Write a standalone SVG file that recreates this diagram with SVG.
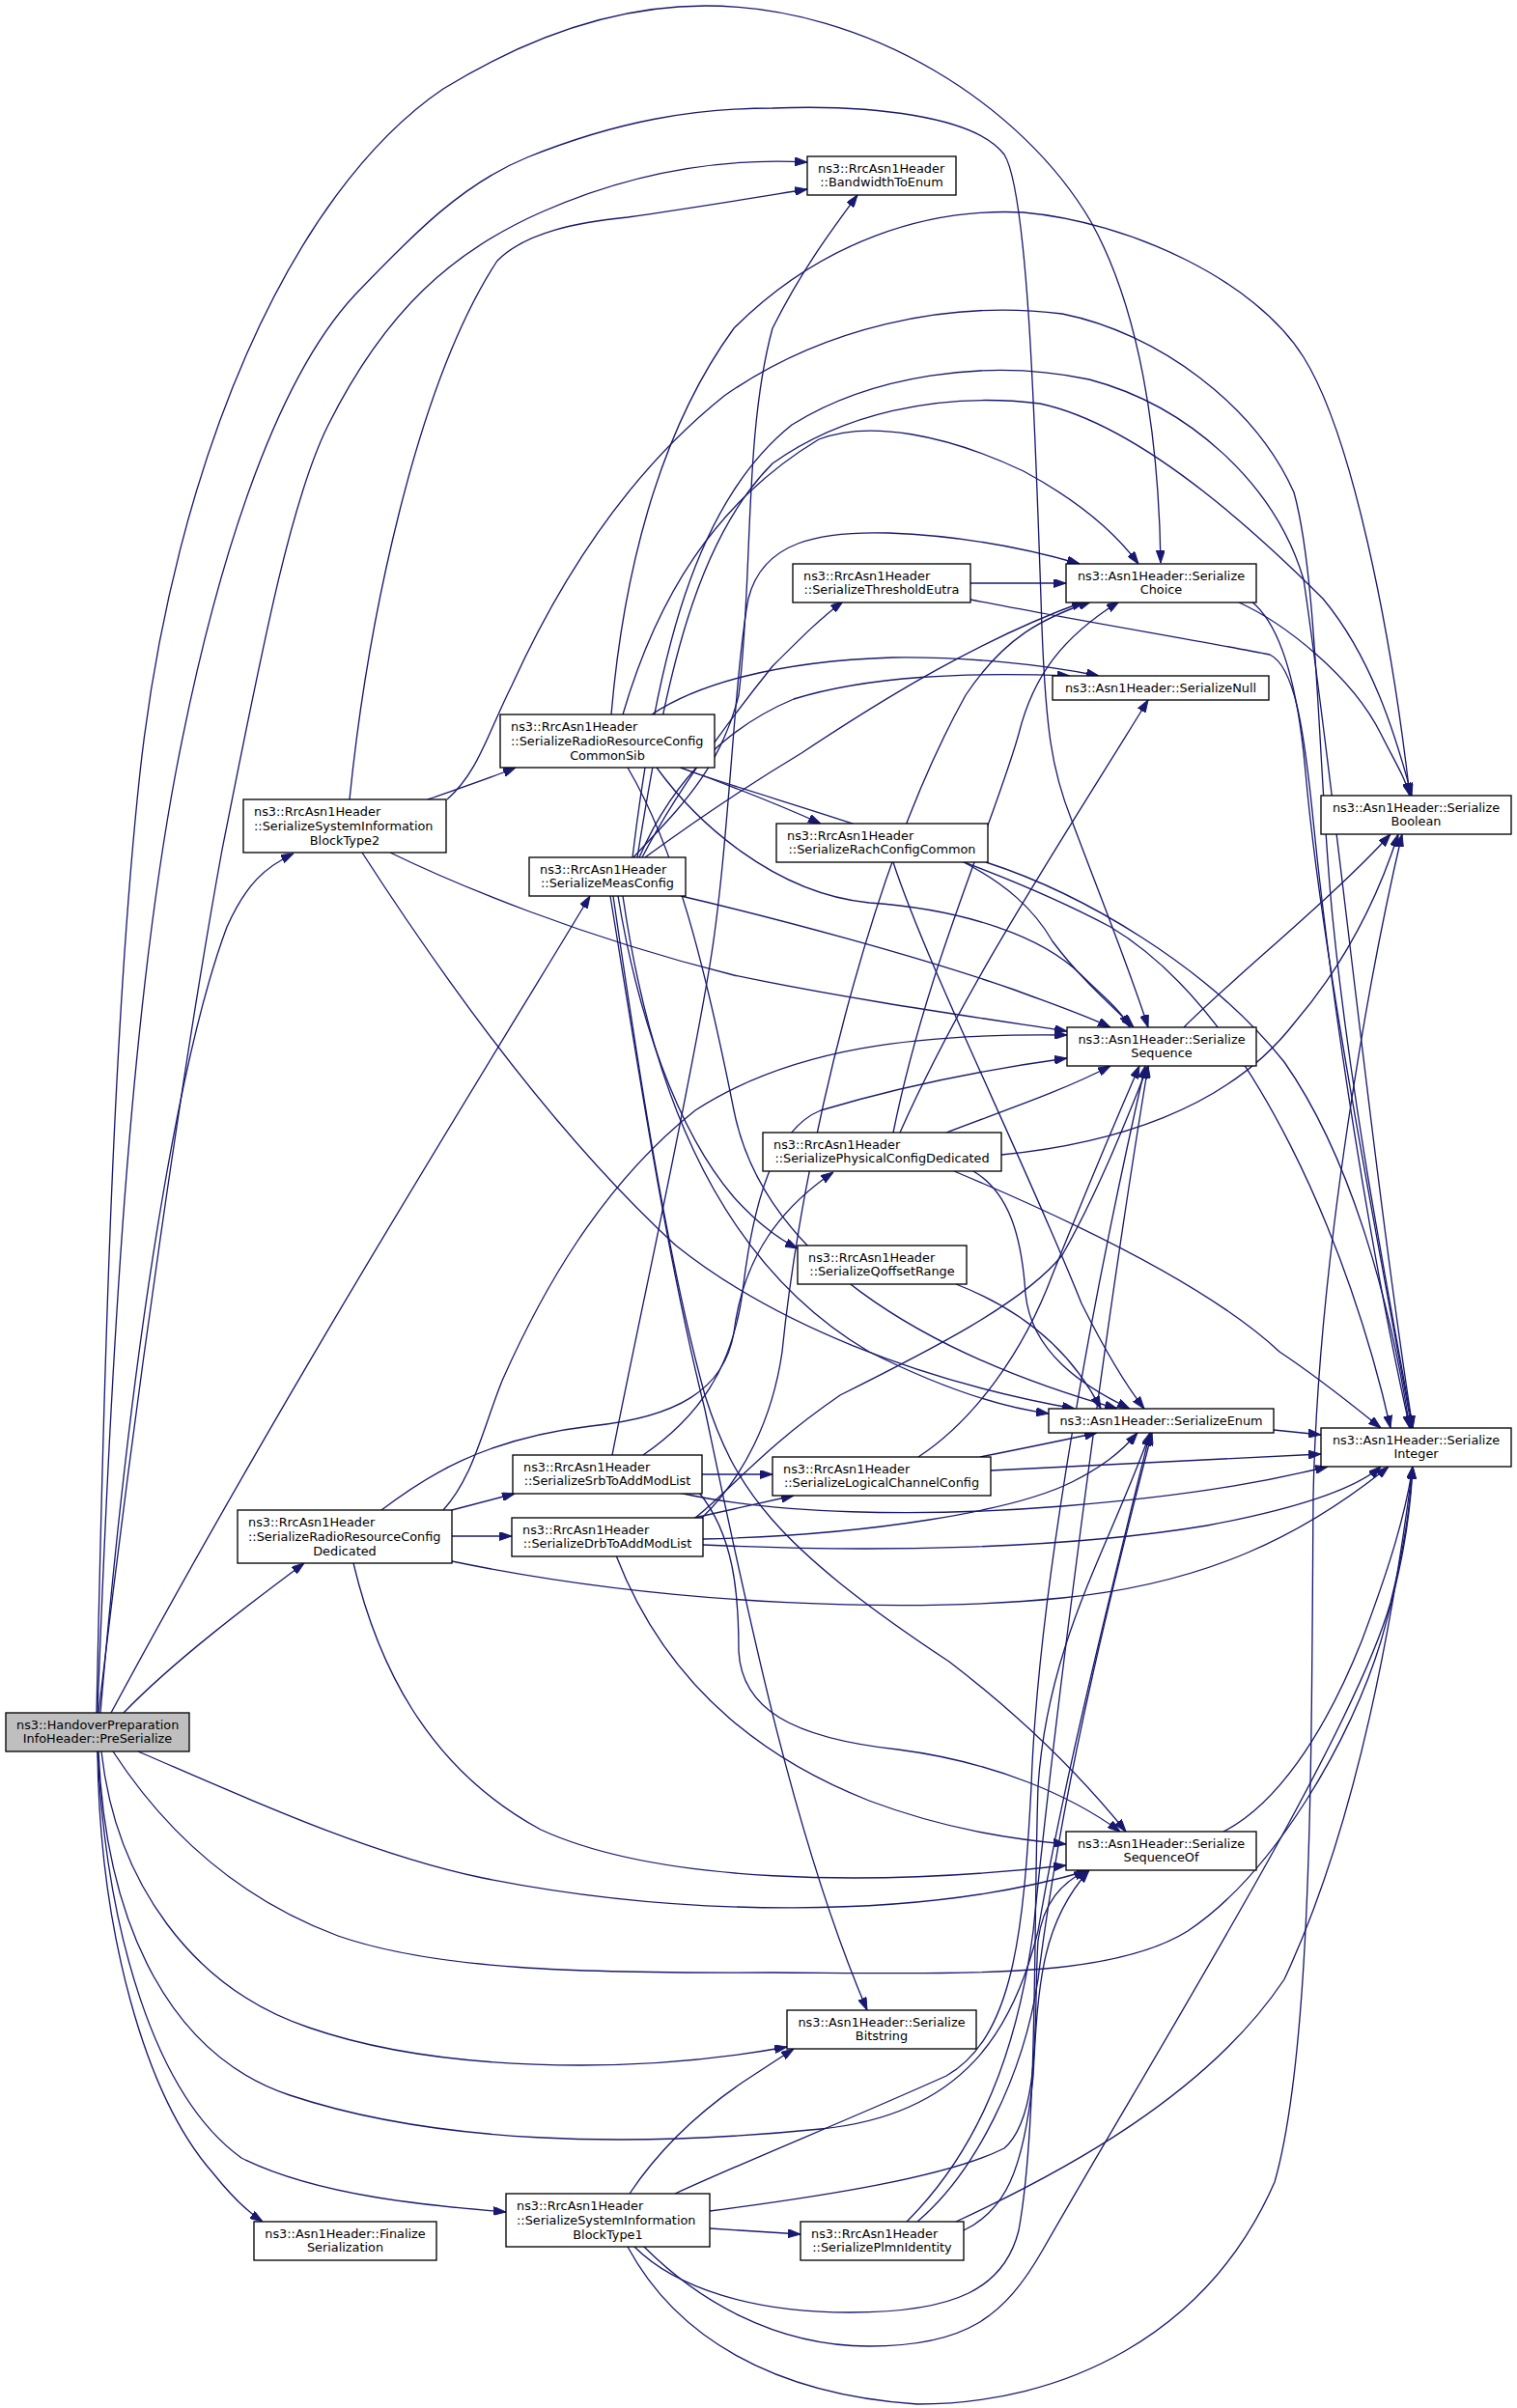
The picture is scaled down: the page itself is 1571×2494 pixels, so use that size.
<svg xmlns="http://www.w3.org/2000/svg" width="1571" height="2494" viewBox="0 0 1571 2494">
<style>
.n rect{fill:#fff;stroke:#000;stroke-width:1.33}
.n.root rect{fill:#bfbfbf}
.n text{font-family:"DejaVu Sans","Liberation Sans",sans-serif;font-size:12.85px;fill:#000}
.n text.c{text-anchor:middle}
.e path{fill:none;stroke:#191970;stroke-width:1.33;marker-end:url(#a)}
</style>
<defs>
<marker id="a" viewBox="0 0 13 9" refX="13" refY="4.5" markerWidth="13" markerHeight="9" markerUnits="userSpaceOnUse" orient="auto"><path d="M0,0 L13,4.5 L0,9 z" fill="#191970" stroke="#191970" stroke-width="1"/></marker>
</defs>
<rect width="1571" height="2494" fill="#fff"/>
<g id="edges" class="e">
<path d="M100,1774 C108,1400 118,1050 145,800 C180,480 300,200 459,92 C560,30 650,6 730,6 C900,6 1060,110 1130,230 C1180,320 1200,450 1202,583"/>
<path d="M101,1774 C115,1400 135,1050 182,800 C220,600 280,400 367,306 C430,240 480,190 546,163 C640,125 720,112 800,112 C900,108 1010,120 1040,160 C1065,200 1072,450 1078,620 C1082,760 1090,800 1110,850 C1140,930 1172,1010 1189,1064"/>
<path d="M102,1774 C140,1450 190,1100 230,880 C270,680 300,520 340,440 C400,320 470,260 560,220 C650,180 740,163 836,168"/>
<path d="M104,1774 C140,1350 190,1080 235,960 C255,915 275,898 304,884"/>
<path d="M115,1774 C300,1430 520,1080 611,928"/>
<path d="M128,1774 C180,1720 260,1660 315,1619"/>
<path d="M143,1814 C250,1860 380,1920 500,1945 C700,1985 950,1990 1128,1937"/>
<path d="M117,1814 C160,1880 230,1960 350,2005 C450,2040 600,2044 800,2043 C1000,2044 1150,2050 1230,2000 C1320,1940 1400,1800 1430,1700 C1450,1630 1460,1580 1463,1519"/>
<path d="M105,1814 C120,1950 200,2060 320,2100 C450,2145 650,2150 815,2120"/>
<path d="M102,1814 C110,2000 180,2130 300,2170 C450,2220 650,2225 850,2205 C1000,2190 1050,2100 1075,2000 C1100,1850 1150,1650 1191,1484"/>
<path d="M101,1814 C110,2000 160,2170 250,2235 C330,2275 450,2285 524,2291"/>
<path d="M101,1814 C103,2000 150,2170 220,2250 C240,2275 255,2290 272,2301"/>
<path d="M362,828 C380,650 430,400 515,270 C545,240 600,230 650,225 C720,215 780,205 836,196"/>
<path d="M443,828 C480,815 510,805 534,795"/>
<path d="M404,883 C470,915 600,970 760,1010 C880,1035 1000,1052 1105,1068"/>
<path d="M375,883 C470,1030 580,1180 700,1290 C800,1370 950,1430 1113,1459"/>
<path d="M463,828 C495,800 505,760 530,710 C580,600 650,490 750,410 C850,340 980,310 1100,325 C1200,345 1300,420 1340,510 C1365,600 1365,800 1380,950 C1400,1150 1440,1350 1463,1479"/>
<path d="M633,740 C645,600 680,450 760,340 C850,250 960,215 1060,220 C1170,230 1300,290 1350,370 C1400,450 1440,650 1460,824"/>
<path d="M645,740 C680,620 740,520 848,455 C900,435 980,450 1060,488 C1110,515 1150,545 1179,584"/>
<path d="M675,740 C720,710 800,685 924,681 C1000,680 1080,688 1138,700"/>
<path d="M705,795 C760,815 810,835 850,853"/>
<path d="M680,795 C720,850 800,925 900,935 C1000,942 1080,970 1120,1010 C1140,1030 1160,1045 1170,1064"/>
<path d="M650,795 C700,880 730,1000 760,1150 C790,1300 950,1400 1157,1459"/>
<path d="M704,795 C800,830 1000,880 1150,960 C1300,1050 1400,1300 1440,1479"/>
<path d="M656,888 C700,840 745,800 765,720 C780,600 770,450 800,340 C830,280 860,240 888,202"/>
<path d="M665,888 C700,820 760,740 800,690 C830,660 850,640 873,623"/>
<path d="M668,888 C720,850 780,810 830,780 C920,720 1020,660 1123,623"/>
<path d="M662,888 C700,800 760,750 822,724 C900,700 1000,696 1108,700"/>
<path d="M660,888 C690,700 720,560 800,480 C870,430 970,405 1077,418 C1180,440 1300,550 1370,620 C1420,680 1445,760 1462,824"/>
<path d="M655,888 C680,680 720,520 820,440 C900,390 1020,370 1128,393 C1230,420 1320,500 1350,600 C1380,800 1420,1200 1463,1479"/>
<path d="M705,928 C800,950 950,990 1050,1025 C1090,1040 1120,1050 1150,1064"/>
<path d="M640,928 C660,1050 700,1170 760,1240 C780,1262 800,1280 826,1293"/>
<path d="M645,928 C670,1100 730,1300 900,1400 C980,1440 1040,1458 1086,1464"/>
<path d="M635,928 C660,1100 690,1300 730,1445 C760,1540 800,1600 983,1721 C1060,1780 1120,1840 1166,1897"/>
<path d="M632,928 C660,1100 690,1300 730,1460 C770,1650 820,1900 898,2082"/>
<path d="M1005,604 L1104,604"/>
<path d="M1005,621 C1100,640 1250,665 1315,678 C1340,690 1350,750 1360,850 C1380,1050 1420,1300 1460,1479"/>
<path d="M1281,623 C1330,645 1400,700 1430,760 C1445,790 1455,805 1460,824"/>
<path d="M1296,623 C1330,650 1345,720 1352,800 C1370,1000 1430,1300 1462,1479"/>
<path d="M1226,1064 C1280,1010 1380,930 1440,864"/>
<path d="M1267,1897 C1320,1870 1370,1800 1410,1700 C1440,1620 1455,1570 1463,1519"/>
<path d="M1319,1481 L1368,1486"/>
<path d="M998,893 C1040,915 1070,940 1090,975 C1120,1015 1150,1040 1174,1064"/>
<path d="M925,893 C960,1000 1060,1200 1120,1350 C1150,1410 1170,1440 1185,1459"/>
<path d="M1021,893 C1120,925 1250,1000 1330,1100 C1400,1200 1440,1350 1460,1479"/>
<path d="M980,1173 C1040,1150 1100,1130 1150,1104"/>
<path d="M925,1173 C960,1000 1030,850 1055,760 C1070,700 1100,660 1159,623"/>
<path d="M932,1173 C1000,1020 1100,870 1189,725"/>
<path d="M1037,1196 C1150,1185 1270,1150 1340,1060 C1400,990 1430,920 1448,864"/>
<path d="M988,1213 C1100,1260 1250,1330 1325,1400 C1370,1430 1400,1455 1430,1479"/>
<path d="M1008,1213 C1045,1235 1058,1280 1062,1340 C1068,1400 1120,1435 1170,1459"/>
<path d="M990,1330 C1060,1357 1110,1400 1140,1459"/>
<path d="M468,1564 L533,1547"/>
<path d="M468,1591 L530,1591"/>
<path d="M395,1564 C440,1530 500,1490 612,1477 C700,1468 750,1440 760,1380 C770,1300 810,1250 863,1214"/>
<path d="M459,1564 C490,1530 500,1480 520,1430 C560,1340 620,1230 720,1150 C820,1085 950,1070 1105,1072"/>
<path d="M366,1619 C390,1720 440,1830 560,1895 C680,1950 900,1955 1104,1932"/>
<path d="M468,1617 C700,1665 950,1670 1100,1655 C1250,1640 1350,1590 1438,1519"/>
<path d="M727,1527 L800,1527"/>
<path d="M634,1507 C665,1350 710,1150 735,1000 C755,880 760,700 775,620 C790,560 850,550 920,552 C1000,555 1070,570 1118,584"/>
<path d="M666,1507 C720,1470 760,1420 770,1330 C780,1250 800,1170 850,1150 C950,1120 1040,1105 1105,1096"/>
<path d="M703,1546 C800,1568 950,1572 1100,1560 C1250,1548 1330,1530 1375,1519"/>
<path d="M724,1546 C760,1590 765,1650 765,1710 C768,1770 820,1800 930,1812 C1030,1825 1110,1860 1160,1897"/>
<path d="M719,1572 L822,1549"/>
<path d="M720,1572 C760,1540 790,1500 870,1445 C960,1400 1060,1350 1100,1300 C1140,1230 1170,1150 1189,1104"/>
<path d="M727,1572 C770,1530 800,1470 810,1400 C830,1200 900,900 1000,720 C1040,660 1080,640 1130,623"/>
<path d="M728,1594 C900,1590 1050,1565 1110,1535 C1140,1520 1160,1505 1178,1484"/>
<path d="M728,1600 C900,1608 1100,1605 1250,1580 C1330,1565 1400,1545 1430,1519"/>
<path d="M638,1611 C680,1720 760,1810 900,1865 C980,1895 1050,1905 1104,1910"/>
<path d="M951,1509 C1010,1470 1060,1400 1090,1320 C1130,1220 1160,1150 1180,1104"/>
<path d="M1015,1509 C1060,1500 1100,1492 1136,1484"/>
<path d="M1026,1523 L1368,1506"/>
<path d="M652,2272 C680,2230 720,2190 770,2156 C790,2143 805,2133 822,2122"/>
<path d="M735,2308 L829,2314"/>
<path d="M735,2290 C850,2275 980,2255 1040,2225 C1080,2190 1070,2080 1075,2010 C1080,1970 1100,1950 1125,1937"/>
<path d="M699,2272 C780,2235 880,2195 980,2150 C1050,2110 1060,2000 1068,1850 C1075,1650 1130,1350 1186,1104"/>
<path d="M657,2327 C700,2370 780,2395 880,2395 C990,2395 1040,2370 1055,2310 C1075,2200 1070,2000 1075,1850 C1085,1700 1150,1600 1191,1484"/>
<path d="M667,2327 C720,2380 800,2430 900,2430 C1000,2430 1040,2400 1080,2330 C1200,2120 1400,1800 1440,1660 C1455,1600 1460,1560 1463,1519"/>
<path d="M650,2327 C700,2420 800,2480 950,2490 C1100,2490 1250,2420 1320,2260 C1360,2120 1358,1800 1360,1550 C1365,1300 1420,1000 1452,864"/>
<path d="M939,2301 C1000,2240 1050,2150 1070,2000 C1090,1800 1140,1400 1189,1104"/>
<path d="M950,2301 C1010,2250 1060,2150 1075,2050 C1100,1850 1150,1650 1193,1484"/>
<path d="M998,2310 C1040,2290 1060,2250 1070,2150 C1075,2050 1080,1990 1128,1937"/>
<path d="M990,2301 C1100,2250 1250,2170 1330,2050 C1400,1900 1440,1700 1463,1519"/>
</g>
<g id="n_pre" class="n root"><rect x="6" y="1774" width="190" height="40"/><text x="17" y="1790.5">ns3::HandoverPreparation</text><text class="c" x="101" y="1805">InfoHeader::PreSerialize</text></g>
<g id="n_bte" class="n"><rect x="836" y="162" width="154" height="40"/><text x="847" y="178.5">ns3::RrcAsn1Header</text><text class="c" x="913" y="193">::BandwidthToEnum</text></g>
<g id="n_choice" class="n"><rect x="1104" y="584" width="197" height="40"/><text class="c" x="1202.5" y="600.5">ns3::Asn1Header::Serialize</text><text class="c" x="1202.5" y="615">Choice</text></g>
<g id="n_thr" class="n"><rect x="821" y="584" width="184" height="40"/><text x="832" y="600.5">ns3::RrcAsn1Header</text><text class="c" x="913" y="615">::SerializeThresholdEutra</text></g>
<g id="n_null" class="n"><rect x="1090" y="700" width="224" height="25"/><text class="c" x="1202" y="716.5">ns3::Asn1Header::SerializeNull</text></g>
<g id="n_commonsib" class="n"><rect x="518" y="740" width="222" height="55"/><text x="529" y="756.5">ns3::RrcAsn1Header</text><text x="529" y="771.5">::SerializeRadioResourceConfig</text><text class="c" x="629" y="786.5">CommonSib</text></g>
<g id="n_rach" class="n"><rect x="804" y="853" width="219" height="40"/><text x="815" y="869.5">ns3::RrcAsn1Header</text><text class="c" x="913.5" y="884">::SerializeRachConfigCommon</text></g>
<g id="n_sib2" class="n"><rect x="252" y="828" width="210" height="55"/><text x="263" y="844.5">ns3::RrcAsn1Header</text><text x="263" y="859.5">::SerializeSystemInformation</text><text class="c" x="357" y="874.5">BlockType2</text></g>
<g id="n_boolean" class="n"><rect x="1368" y="824" width="197" height="40"/><text class="c" x="1466.5" y="840.5">ns3::Asn1Header::Serialize</text><text class="c" x="1466.5" y="855">Boolean</text></g>
<g id="n_meas" class="n"><rect x="548" y="888" width="162" height="40"/><text x="559" y="904.5">ns3::RrcAsn1Header</text><text class="c" x="629" y="919">::SerializeMeasConfig</text></g>
<g id="n_sequence" class="n"><rect x="1105" y="1064" width="196" height="40"/><text class="c" x="1203" y="1080.5">ns3::Asn1Header::Serialize</text><text class="c" x="1203" y="1095">Sequence</text></g>
<g id="n_phys" class="n"><rect x="790" y="1173" width="247" height="40"/><text x="801" y="1189.5">ns3::RrcAsn1Header</text><text class="c" x="913.5" y="1204">::SerializePhysicalConfigDedicated</text></g>
<g id="n_qoff" class="n"><rect x="826" y="1290" width="175" height="40"/><text x="837" y="1306.5">ns3::RrcAsn1Header</text><text class="c" x="913.5" y="1321">::SerializeQoffsetRange</text></g>
<g id="n_enum" class="n"><rect x="1086" y="1459" width="233" height="25"/><text class="c" x="1202.5" y="1475.5">ns3::Asn1Header::SerializeEnum</text></g>
<g id="n_integer" class="n"><rect x="1368" y="1479" width="197" height="40"/><text class="c" x="1466.5" y="1495.5">ns3::Asn1Header::Serialize</text><text class="c" x="1466.5" y="1510">Integer</text></g>
<g id="n_srb" class="n"><rect x="531" y="1507" width="196" height="40"/><text x="542" y="1523.5">ns3::RrcAsn1Header</text><text class="c" x="629" y="1538">::SerializeSrbToAddModList</text></g>
<g id="n_lcc" class="n"><rect x="800" y="1509" width="226" height="40"/><text x="811" y="1525.5">ns3::RrcAsn1Header</text><text class="c" x="913" y="1540">::SerializeLogicalChannelConfig</text></g>
<g id="n_drb" class="n"><rect x="530" y="1572" width="198" height="40"/><text x="541" y="1588.5">ns3::RrcAsn1Header</text><text class="c" x="629" y="1603">::SerializeDrbToAddModList</text></g>
<g id="n_dedicated" class="n"><rect x="246" y="1564" width="222" height="55"/><text x="257" y="1580.5">ns3::RrcAsn1Header</text><text x="257" y="1595.5">::SerializeRadioResourceConfig</text><text class="c" x="357" y="1610.5">Dedicated</text></g>
<g id="n_sequenceof" class="n"><rect x="1104" y="1897" width="197" height="40"/><text class="c" x="1202.5" y="1913.5">ns3::Asn1Header::Serialize</text><text class="c" x="1202.5" y="1928">SequenceOf</text></g>
<g id="n_bitstring" class="n"><rect x="815" y="2082" width="196" height="40"/><text class="c" x="913" y="2098.5">ns3::Asn1Header::Serialize</text><text class="c" x="913" y="2113">Bitstring</text></g>
<g id="n_finalize" class="n"><rect x="263" y="2301" width="189" height="40"/><text class="c" x="357.5" y="2317.5">ns3::Asn1Header::Finalize</text><text class="c" x="357.5" y="2332">Serialization</text></g>
<g id="n_sib1" class="n"><rect x="524" y="2272" width="211" height="55"/><text x="535" y="2288.5">ns3::RrcAsn1Header</text><text x="535" y="2303.5">::SerializeSystemInformation</text><text class="c" x="629.5" y="2318.5">BlockType1</text></g>
<g id="n_plmn" class="n"><rect x="829" y="2301" width="169" height="40"/><text x="840" y="2317.5">ns3::RrcAsn1Header</text><text class="c" x="913.5" y="2332">::SerializePlmnIdentity</text></g>
</svg>
